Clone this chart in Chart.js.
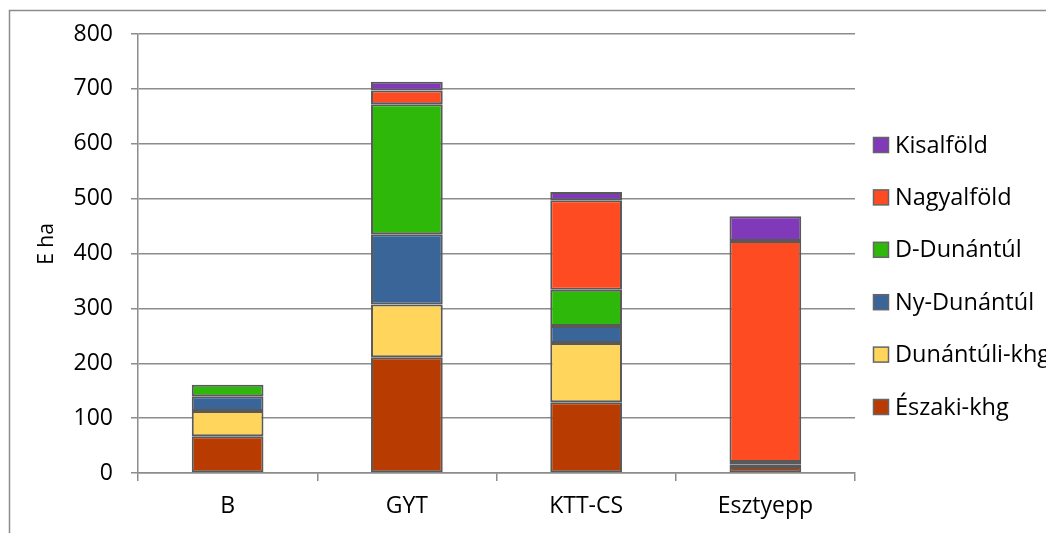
<!DOCTYPE html>
<html>
<head>
<meta charset="utf-8">
<script src="https://cdn.jsdelivr.net/npm/chart.js@4.4.1/dist/chart.umd.min.js"></script>
<style>
  html, body { margin: 0; padding: 0; background: #ffffff; overflow: hidden; }
  #wrap { position: absolute; left: 0; top: 0; width: 1046px; height: 533px; }
</style>
</head>
<body>
<div id="wrap"><canvas id="chart" width="1046" height="533"></canvas></div>
<script>
// Categories and stacked series (thousand hectares)
const categories = ['B', 'GYT', 'KTT-CS', 'Esztyepp'];

const eszakiKhg    = [67, 211, 129, 11];
const dunantuliKhg = [46, 96, 108, 5];
const nyDunantul   = [27, 128, 31, 2];
const dDunantul    = [21, 237, 66, 2];
const nagyalfold   = [null, 25, 163, 403];
const kisalfold    = [null, 16, 15, 45];

const seriesNames  = ['Északi-khg', 'Dunántúli-khg', 'Ny-Dunántúl', 'D-Dunántúl', 'Nagyalföld', 'Kisalföld'];
const seriesValues = [eszakiKhg, dunantuliKhg, nyDunantul, dDunantul, nagyalfold, kisalfold];
const seriesColors = ['#B83C02', '#FFD55C', '#3A6599', '#2DB80A', '#FF4B22', '#8039B8'];

const yTicks = { min: 0, max: 800, step: 100 };
const yTitle = 'E ha';

const FONT = "'Open Sans', 'DejaVu Sans', sans-serif";
const GRID = '#8c8c8c';

// Outer frame, axis title and right-hand legend
const decor = {
  id: 'decor',
  beforeDraw(chart) {
    const ctx = chart.ctx;
    ctx.save();
    ctx.fillStyle = '#ffffff';
    ctx.fillRect(0, 0, chart.width, chart.height);
    ctx.strokeStyle = GRID;
    ctx.lineWidth = 1.5;
    ctx.strokeRect(9.5, 10.5, 1200, 700);
    ctx.restore();
  },
  afterDraw(chart) {
    const ctx = chart.ctx;
    ctx.save();
    // y axis title
    ctx.translate(47, 244);
    ctx.rotate(-Math.PI / 2);
    ctx.fillStyle = '#000000';
    ctx.font = '21px ' + FONT;
    ctx.textAlign = 'center';
    ctx.textBaseline = 'middle';
    ctx.fillText(yTitle, 0, 0);
    ctx.restore();

    // legend, top entry is the last series
    const ds = chart.data.datasets;
    const top = 145, gap = 52.4;
    ctx.save();
    ctx.font = '23.5px ' + FONT;
    ctx.textAlign = 'left';
    ctx.textBaseline = 'middle';
    for (let k = 0; k < ds.length; k++) {
      const d = ds[ds.length - 1 - k];
      const cy = top + k * gap;
      ctx.fillStyle = d.backgroundColor;
      ctx.fillRect(873.5, cy - 7.5, 15, 15);
      ctx.strokeStyle = '#666666';
      ctx.lineWidth = 1.5;
      ctx.strokeRect(873.5, cy - 7.5, 15, 15);
      ctx.fillStyle = '#000000';
      ctx.fillText(d.label, 895, cy + 1);
    }
    ctx.restore();
  }
};

function build() {
  new Chart(document.getElementById('chart'), {
    type: 'bar',
    data: {
      labels: categories,
      datasets: seriesNames.map((name, i) => ({
        label: name,
        data: seriesValues[i],
        backgroundColor: seriesColors[i],
        borderColor: '#595959',
        borderWidth: 2,
        borderSkipped: false,
        categoryPercentage: 1.0,
        barPercentage: 0.4
      }))
    },
    options: {
      responsive: false,
      animation: false,
      devicePixelRatio: 1,
      layout: { padding: { top: 34, right: 191, bottom: 0, left: 0 } },
      plugins: {
        legend: { display: false },
        tooltip: { enabled: false }
      },
      scales: {
        x: {
          stacked: true,
          grid: {
            offset: true,
            drawOnChartArea: false,
            drawTicks: true,
            tickLength: 8,
            color: GRID,
            lineWidth: 1.5
          },
          border: { color: GRID, width: 1.5 },
          ticks: {
            color: '#000000',
            font: { family: FONT, size: 23 },
            padding: 12,
            maxRotation: 0
          },
          afterFit(scale) { scale.height = 60; }
        },
        y: {
          stacked: true,
          min: yTicks.min,
          max: yTicks.max,
          grid: {
            color: GRID,
            lineWidth: 1.5,
            tickLength: 7
          },
          border: { color: GRID, width: 1.5 },
          ticks: {
            stepSize: yTicks.step,
            color: '#000000',
            font: { family: FONT, size: 23 },
            padding: 18
          },
          afterFit(scale) { scale.width = 138; }
        }
      }
    },
    plugins: [decor]
  });
}

if (document.fonts && document.fonts.load) {
  document.fonts.load('23px "Open Sans"').then(build, build);
} else {
  build();
}
</script>
</body>
</html>
